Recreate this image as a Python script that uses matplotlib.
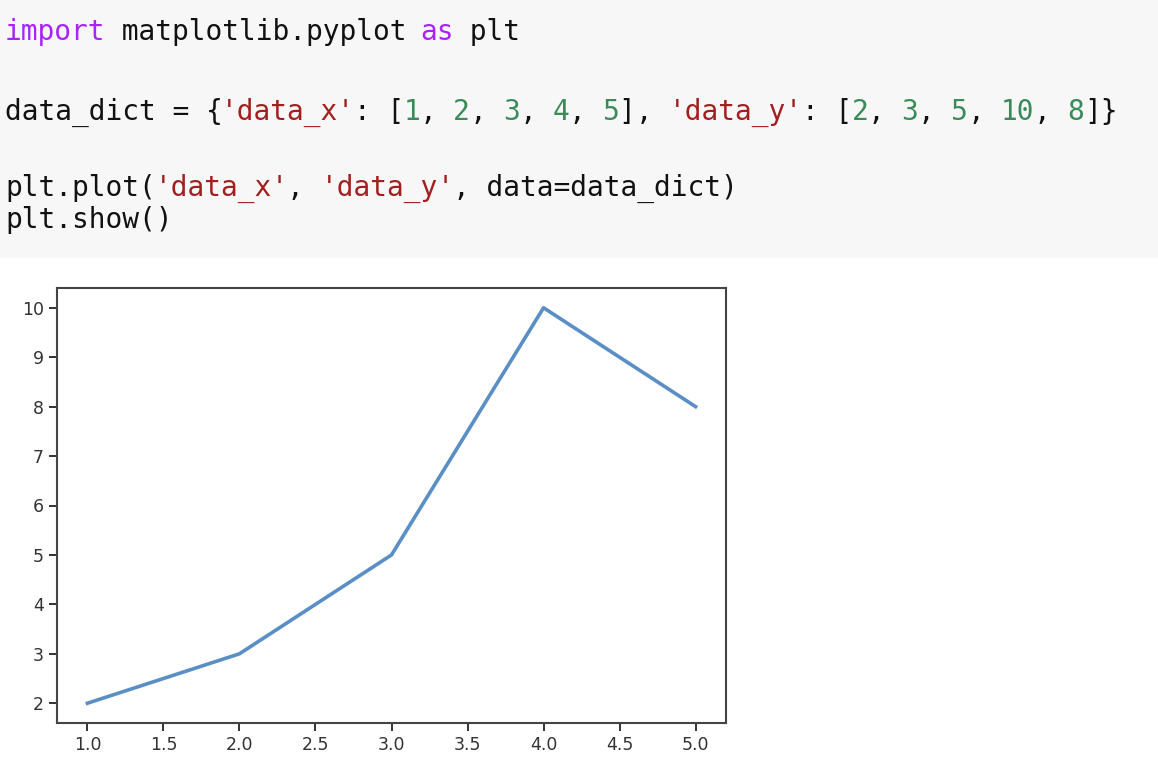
import matplotlib.pyplot as plt
from matplotlib.patches import Rectangle

# data shown in the notebook cell
data_x = [1, 2, 3, 4, 5]
data_y = [2, 3, 5, 10, 8]
x_ticks = [1.0, 1.5, 2.0, 2.5, 3.0, 3.5, 4.0, 4.5, 5.0]
y_ticks = [2, 3, 4, 5, 6, 7, 8, 9, 10]

# code lines as (text, kind) segments
kw = '#aa22ff'
st = '#a31f1f'
nm = '#3a8a5a'
tx = '#111111'
code_lines = [
    (32, [('import', kw), (' matplotlib.pyplot ', tx), ('as', kw), (' plt', tx)]),
    (112, [('data_dict = {', tx), ("'data_x'", st), (': [', tx), ('1', nm), (', ', tx),
           ('2', nm), (', ', tx), ('3', nm), (', ', tx), ('4', nm), (', ', tx), ('5', nm),
           ('], ', tx), ("'data_y'", st), (': [', tx), ('2', nm), (', ', tx), ('3', nm),
           (', ', tx), ('5', nm), (', ', tx), ('10', nm), (', ', tx), ('8', nm), (']}', tx)]),
    (188, [('plt.plot(', tx), ("'data_x'", st), (', ', tx), ("'data_y'", st), (', data=data_dict)', tx)]),
    (220, [('plt.show()', tx)]),
]

W, H = 1158, 772
fig = plt.figure(figsize=(W / 100, H / 100), dpi=100)
fig.patch.set_facecolor('white')

# gray code cell background
fig.patches.append(Rectangle((0, 1 - 258 / H), 1, 258 / H, transform=fig.transFigure,
                             facecolor='#f7f7f7', edgecolor='none', zorder=0))

fsize = 20.1
char_w = 16.6  # monospace advance in px
for yy, segs in code_lines:
    col = 0
    for s, c in segs:
        fig.text((5 + col * char_w) / W, 1 - yy / H, s, color=c, fontsize=fsize,
                 family='DejaVu Sans Mono', va='center', ha='left')
        col += len(s)

ax = fig.add_axes([57 / W, 1 - 723 / H, (726 - 57) / W, (723 - 288) / H])
ax.plot(data_x, data_y, color='#5a8fc5', linewidth=2.6)
ax.set_xticks(x_ticks)
ax.set_yticks(y_ticks)
ax.set_xticklabels([f'{v:.1f}' for v in x_ticks])
for sp in ax.spines.values():
    sp.set_color('#444444')
    sp.set_linewidth(1.5)
ax.tick_params(colors='#333333', labelsize=12.5, width=1.4, length=6)

fig.savefig('out.png', dpi=100)
